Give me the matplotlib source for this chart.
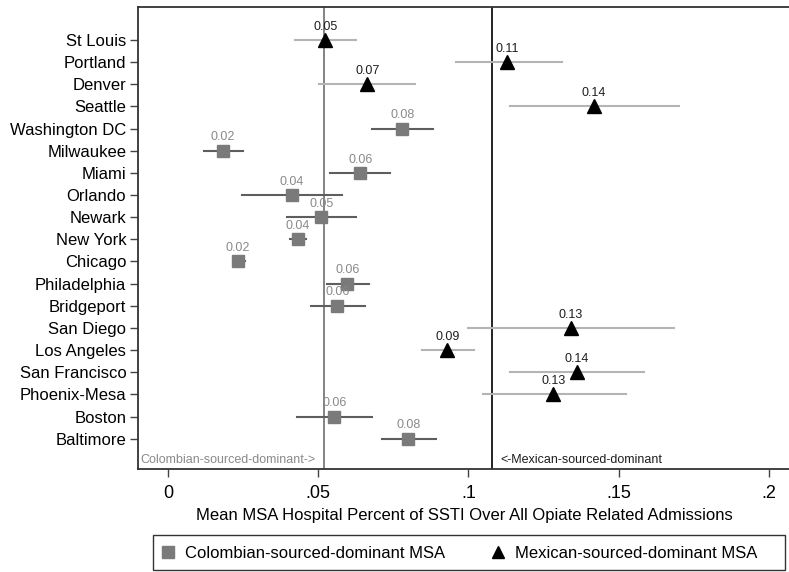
import numpy as np
import matplotlib
matplotlib.use("Agg")
import matplotlib.pyplot as plt
from matplotlib.lines import Line2D
from matplotlib.patches import Rectangle

plt.rcParams["font.family"] = ["Liberation Sans", "DejaVu Sans"]

cities = ["St Louis", "Portland", "Denver", "Seattle", "Washington DC", "Milwaukee",
          "Miami", "Orlando", "Newark", "New York", "Chicago", "Philadelphia",
          "Bridgeport", "San Diego", "Los Angeles", "San Francisco", "Phoenix-Mesa",
          "Boston", "Baltimore"]
# "M" = Mexican-sourced-dominant, "C" = Colombian-sourced-dominant
group = ["M", "M", "M", "M", "C", "C", "C", "C", "C", "C", "C", "C",
         "C", "M", "M", "M", "M", "C", "C"]
means = [0.0523, 0.113, 0.0663, 0.1417, 0.078, 0.0183, 0.064, 0.0413, 0.051, 0.0433,
         0.0233, 0.0597, 0.0563, 0.134, 0.093, 0.136, 0.1283, 0.0553, 0.080]
ci_lo = [0.0423, 0.0957, 0.0503, 0.1137, 0.068, 0.012, 0.054, 0.0247, 0.0397, 0.0407,
         0.0217, 0.053, 0.0477, 0.0997, 0.0847, 0.1137, 0.105, 0.043, 0.0713]
ci_hi = [0.0627, 0.131, 0.0823, 0.170, 0.0883, 0.025, 0.074, 0.058, 0.0627, 0.046,
         0.0257, 0.067, 0.0657, 0.1683, 0.1017, 0.1583, 0.1523, 0.068, 0.0893]
value_labels = ["0.05", "0.11", "0.07", "0.14", "0.08", "0.02", "0.06", "0.04", "0.05",
                "0.04", "0.02", "0.06", "0.06", "0.13", "0.09", "0.14", "0.13", "0.06", "0.08"]

colombian_line = 0.052
mexican_line = 0.108

xticks = [0, 0.05, 0.1, 0.15, 0.2]
xtick_labels = ["0", ".05", ".1", ".15", ".2"]

fig = plt.figure(figsize=(7.89, 5.72), dpi=100)
ax = fig.add_axes([0.175, 0.18, 0.826, 0.808])

y = np.arange(1, len(cities) + 1)
style = {
    "C": dict(marker="s", mcolor="#7a7a7a", lcolor="#5e5e5e", tcolor="#8a8a8a", ms=9),
    "M": dict(marker="^", mcolor="black", lcolor="#b4b4b4", tcolor="#1e1e1e", ms=10),
}

for i in range(len(cities)):
    st = style[group[i]]
    ax.plot([ci_lo[i], ci_hi[i]], [y[i], y[i]], color=st["lcolor"], lw=1.5, zorder=2)
    ax.plot(means[i], y[i], marker=st["marker"], color=st["mcolor"], ms=st["ms"],
            linestyle="none", zorder=3)
    ax.text(means[i], y[i] - 0.6, value_labels[i], ha="center", va="center",
            fontsize=9, color=st["tcolor"], zorder=4)

ax.axvline(colombian_line, color="#6e6e6e", lw=1.2, zorder=1)
ax.axvline(mexican_line, color="#222222", lw=1.4, zorder=1)

ax.text(-0.0093, 19.95, "Colombian-sourced-dominant->", fontsize=9, color="#8a8a8a",
        ha="left", va="center")
ax.text(0.1105, 19.95, "<-Mexican-sourced-dominant", fontsize=9, color="#1e1e1e",
        ha="left", va="center")

ax.set_xlim(-0.01, 0.207)
ax.set_ylim(20.37, -0.49)
ax.set_yticks(y)
ax.set_yticklabels(cities, fontsize=12)
ax.set_xticks(xticks)
ax.set_xticklabels(xtick_labels, fontsize=13)
ax.tick_params(axis="both", direction="out", length=5.5, width=1, color="#444444")
ax.tick_params(axis="x", pad=6)
ax.tick_params(axis="y", pad=3)
ax.set_xlabel("Mean MSA Hospital Percent of SSTI Over All Opiate Related Admissions",
              fontsize=12, labelpad=4)
for s in ["left", "top", "bottom"]:
    ax.spines[s].set_color("#333333")
    ax.spines[s].set_linewidth(1.3)
ax.spines["right"].set_visible(False)

handles = [
    Line2D([], [], marker="s", color="#7a7a7a", linestyle="none", ms=8),
    Line2D([], [], marker="^", color="black", linestyle="none", ms=8),
]
fig.legend(handles, ["Colombian-sourced-dominant MSA", "Mexican-sourced-dominant MSA"],
           loc="center left", bbox_to_anchor=(160 / 789, 0.032), ncol=2, fontsize=12,
           frameon=False, handletextpad=0.5, columnspacing=2.68, borderpad=0,
           borderaxespad=0, handlelength=1.0)
fig.patches.append(Rectangle((153 / 789, 2 / 572), 632 / 789, 35 / 572,
                             transform=fig.transFigure, fill=False,
                             edgecolor="#333333", lw=1.0))

fig.savefig("out.png", dpi=100)
